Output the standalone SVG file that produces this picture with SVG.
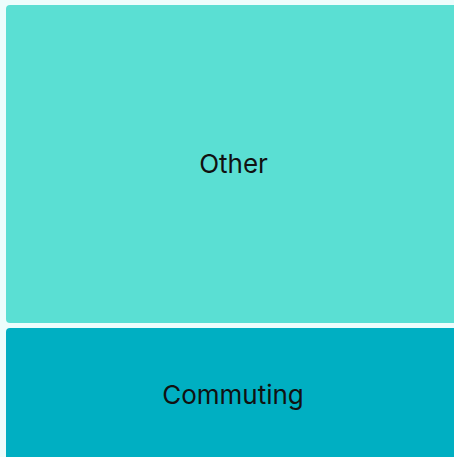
<svg xmlns="http://www.w3.org/2000/svg" width="454" height="457" viewBox="0 0 454 457">
<style>
.lbl{font-family:Inter,"Noto Sans",sans-serif;font-size:26px;fill:#111;text-anchor:middle;dominant-baseline:central}
</style>
<rect x="0" y="0" width="454" height="457" fill="#ECFDFC"/>
<g id="other">
<rect x="6" y="5" width="452" height="318" rx="4" fill="#5ADFD3"/>
<text class="lbl" x="233.5" y="163">Other</text>
</g>
<g id="commuting">
<rect x="6" y="328" width="452" height="135" rx="4" fill="#00AFC2"/>
<text class="lbl" x="233" y="394">Commuting</text>
</g>
<g id="connectors"/>
</svg>
